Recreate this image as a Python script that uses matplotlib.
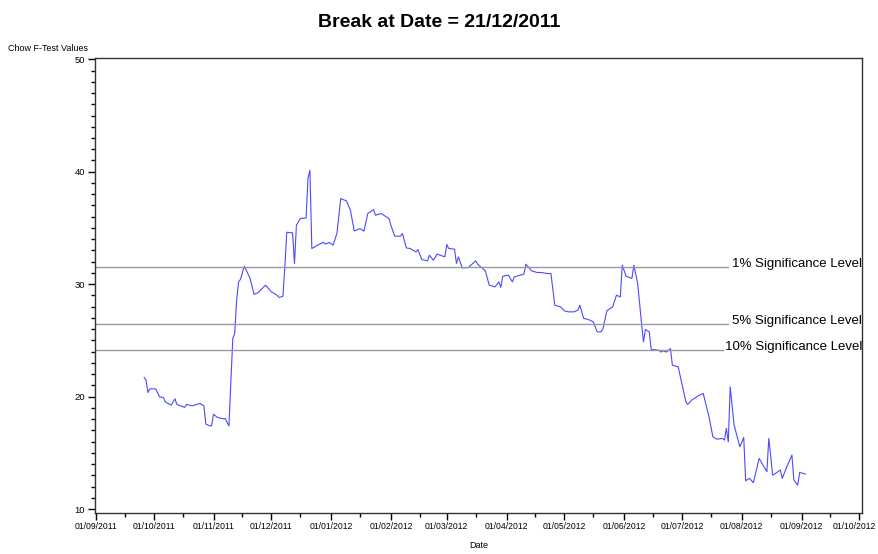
import numpy as np
import pandas as pd
import matplotlib
matplotlib.use("Agg")
import matplotlib.pyplot as plt
import matplotlib.dates as mdates
import matplotlib.transforms as mtransforms

plt.rcParams['font.family'] = ['Liberation Sans', 'DejaVu Sans']

# Chow F-test values (days counted from 01/09/2011)
day_offsets = [25, 26, 27, 28, 31, 33, 35, 36, 39, 41, 42, 46, 47, 50, 54, 56,
               57, 59, 60, 61, 63, 66, 67, 69, 70, 71, 72, 73, 74, 75, 77, 80,
               82, 84, 88, 91, 94, 95, 97, 98, 99, 102, 103, 104, 106, 109, 110,
               111, 112, 115, 118, 119, 121, 123, 125, 127, 130, 132, 134, 135,
               137, 139, 141, 144, 145, 148, 152, 153, 155, 158, 159, 161, 163,
               166, 167, 169, 172, 173, 175, 177, 181, 182, 183, 186, 187, 188,
               190, 193, 197, 198, 202, 204, 207, 209, 210, 211, 214, 216, 217,
               222, 223, 226, 229, 231, 234, 236, 238, 241, 243, 245, 248, 250,
               251, 253, 255, 258, 260, 262, 263, 265, 268, 270, 272, 273, 275,
               278, 279, 281, 283, 284, 285, 287, 288, 292, 293, 294, 296, 298,
               299, 302, 306, 307, 309, 313, 315, 318, 320, 322, 325, 326, 327,
               328, 329, 331, 334, 336, 337, 339, 341, 344, 348, 349, 351, 353,
               355, 356, 358, 361, 362, 364, 365, 368]
f_values = [21.71, 21.47, 20.37, 20.69, 20.69, 19.98, 19.93, 19.54, 19.24, 19.80,
            19.31, 19.04, 19.31, 19.18, 19.40, 19.18, 17.56, 17.40, 17.40, 18.44,
            18.15, 18.03, 18.06, 17.40, 21.40, 25.17, 25.62, 28.58, 30.20, 30.44,
            31.60, 30.51, 29.11, 29.23, 29.91, 29.32, 29.02, 28.82, 28.93, 31.54,
            34.62, 34.56, 31.84, 35.24, 35.84, 35.89, 39.40, 40.13, 33.17, 33.47,
            33.73, 33.56, 33.71, 33.47, 34.51, 37.62, 37.40, 36.58, 34.74, 34.80,
            34.95, 34.71, 36.28, 36.64, 36.13, 36.28, 35.84, 35.24, 34.27, 34.27,
            34.51, 33.23, 33.17, 32.87, 33.08, 32.20, 32.07, 32.58, 32.13, 32.67,
            32.43, 33.53, 33.17, 33.11, 31.84, 32.43, 31.45, 31.47, 32.07, 31.78,
            31.18, 29.91, 29.76, 30.20, 29.71, 30.71, 30.80, 30.20, 30.65, 30.89,
            31.78, 31.18, 31.04, 31.04, 30.95, 30.95, 28.13, 27.98, 27.63, 27.54,
            27.54, 27.69, 28.13, 26.95, 26.89, 26.65, 25.76, 25.76, 26.06, 27.63,
            27.98, 29.02, 28.87, 31.69, 30.71, 30.51, 31.69, 30.06, 26.51, 24.87,
            25.97, 25.76, 24.20, 24.13, 23.96, 24.07, 23.96, 24.28, 22.80, 22.65,
            19.54, 19.31, 19.69, 20.13, 20.28, 18.20, 16.43, 16.22, 16.28, 16.13,
            17.17, 15.98, 20.87, 17.47, 15.54, 16.37, 12.52, 12.73, 12.34, 14.51,
            13.32, 16.28, 13.02, 13.23, 13.47, 12.73, 13.62, 14.80, 12.58, 12.13,
            13.26, 13.11]

levels = [31.55, 26.45, 24.15]
level_labels = ['1% Significance Level', '5% Significance Level', '10% Significance Level']

dates = pd.Timestamp('2011-09-01') + pd.to_timedelta(day_offsets, unit='D')

fig = plt.figure(figsize=(8.79, 5.54), dpi=100)
ax = fig.add_axes([0.108, 0.074, 0.873, 0.821])

ax.plot(dates, f_values, color='#4a4aff', linewidth=0.8)

# significance lines stop short of their labels
line_ends = [0.825, 0.825, 0.818]
for lvl, lab, xe in zip(levels, level_labels, line_ends):
    ax.axhline(lvl, xmin=0, xmax=xe, color='#999999', linewidth=1)
    ax.text(1.0, lvl + 0.25, lab, transform=ax.get_yaxis_transform(),
            ha='right', va='center', fontsize=9.5)

ax.set_xlim(pd.Timestamp('2011-08-31 12:00'), pd.Timestamp('2012-10-02 12:00'))
ax.set_ylim(9.65, 50.1)

ax.xaxis.set_major_locator(mdates.MonthLocator(bymonthday=1))
ax.xaxis.set_minor_locator(mdates.MonthLocator(bymonthday=16))
ax.xaxis.set_major_formatter(mdates.DateFormatter('%d/%m/%Y'))
ax.set_yticks([10, 20, 30, 40, 50])
ax.set_yticks(np.arange(10, 51, 1), minor=True)

ax.tick_params(which='major', direction='out', length=5, width=1,
               top=False, right=False)
ax.tick_params(axis='x', labelsize=6.2, pad=1.5)
ax.tick_params(axis='y', labelsize=6.8, pad=2)
ax.tick_params(which='minor', direction='out', length=3, width=1,
               top=False, right=False)
for s in ax.spines.values():
    s.set_linewidth(1)
    s.set_color('#333333')

ax.set_xlabel('Date', fontsize=6.5, labelpad=7)
fig.text(0.009, 0.913, 'Chow F-Test Values', fontsize=6.5, ha='left', va='center')
fig.suptitle('Break at Date = 21/12/2011', fontsize=14, fontweight='bold', y=0.975)

# nudge the last date label so it stays inside the canvas
fig.canvas.draw()
last = ax.get_xticklabels()[-1]
last.set_transform(last.get_transform() +
                   mtransforms.ScaledTranslation(-4 / 72, 0, fig.dpi_scale_trans))

fig.savefig('out.png', dpi=100)
